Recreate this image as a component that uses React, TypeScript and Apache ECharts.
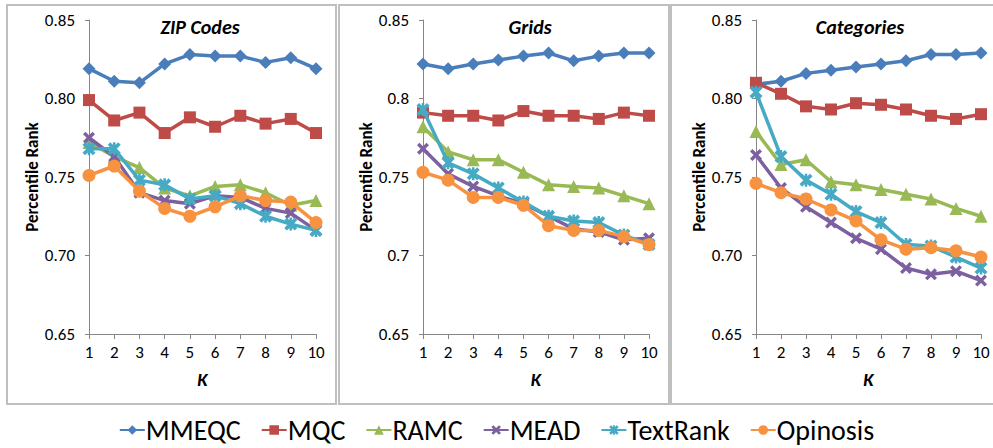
import React, { useEffect, useRef } from "react";
import * as echarts from "echarts";

const kLabels = ["1", "2", "3", "4", "5", "6", "7", "8", "9", "10"];
const seriesNames = ["MMEQC", "MQC", "RAMC", "MEAD", "TextRank", "Opinosis"];
const panelTitles = ["ZIP Codes", "Grids", "Categories"];
const yTicks = [0.65, 0.7, 0.75, 0.8, 0.85];

// ZIP Codes
const zipMMEQC = [0.819, 0.811, 0.81, 0.822, 0.828, 0.827, 0.827, 0.823, 0.826, 0.819];
const zipMQC = [0.799, 0.786, 0.791, 0.778, 0.788, 0.782, 0.789, 0.784, 0.787, 0.778];
const zipRAMC = [0.772, 0.763, 0.756, 0.743, 0.738, 0.744, 0.745, 0.74, 0.732, 0.735];
const zipMEAD = [0.775, 0.763, 0.74, 0.735, 0.733, 0.738, 0.737, 0.73, 0.727, 0.716];
const zipTextRank = [0.768, 0.768, 0.748, 0.745, 0.736, 0.738, 0.733, 0.725, 0.72, 0.716];
const zipOpinosis = [0.751, 0.757, 0.741, 0.73, 0.725, 0.731, 0.738, 0.735, 0.734, 0.721];

// Grids
const gridMMEQC = [0.822, 0.819, 0.822, 0.8245, 0.827, 0.829, 0.824, 0.827, 0.829, 0.829];
const gridMQC = [0.791, 0.789, 0.789, 0.786, 0.792, 0.789, 0.789, 0.787, 0.791, 0.789];
const gridRAMC = [0.782, 0.766, 0.761, 0.761, 0.753, 0.745, 0.744, 0.743, 0.738, 0.733];
const gridMEAD = [0.768, 0.752, 0.744, 0.738, 0.733, 0.725, 0.717, 0.715, 0.71, 0.711];
const gridTextRank = [0.793, 0.759, 0.752, 0.743, 0.734, 0.725, 0.722, 0.721, 0.713, 0.707];
const gridOpinosis = [0.753, 0.748, 0.737, 0.737, 0.732, 0.719, 0.716, 0.716, 0.712, 0.707];

// Categories
const catMMEQC = [0.809, 0.811, 0.816, 0.818, 0.82, 0.822, 0.824, 0.828, 0.828, 0.829];
const catMQC = [0.81, 0.803, 0.795, 0.793, 0.797, 0.796, 0.793, 0.789, 0.787, 0.79];
const catRAMC = [0.779, 0.758, 0.761, 0.747, 0.745, 0.742, 0.739, 0.736, 0.73, 0.725];
const catMEAD = [0.764, 0.743, 0.731, 0.721, 0.711, 0.704, 0.692, 0.688, 0.69, 0.684];
const catTextRank = [0.804, 0.763, 0.748, 0.739, 0.728, 0.721, 0.707, 0.706, 0.699, 0.692];
const catOpinosis = [0.746, 0.74, 0.736, 0.729, 0.722, 0.71, 0.704, 0.705, 0.703, 0.699];

const panelData = [
  [zipMMEQC, zipMQC, zipRAMC, zipMEAD, zipTextRank, zipOpinosis],
  [gridMMEQC, gridMQC, gridRAMC, gridMEAD, gridTextRank, gridOpinosis],
  [catMMEQC, catMQC, catRAMC, catMEAD, catTextRank, catOpinosis],
];

const COLORS = ["#4A7EBB", "#BE4B48", "#98B954", "#7D60A0", "#46AAC5", "#F69240"];
const X_PATH = "path://M0,2 L2,0 L5,3 L8,0 L10,2 L7,5 L10,8 L8,10 L5,7 L2,10 L0,8 L3,5 Z";
const AST_PATH =
  "path://M0,2 L2,0 L5,3 L8,0 L10,2 L7,5 L10,8 L8,10 L5,7 L2,10 L0,8 L3,5 Z M4,0 L6,0 L6,10 L4,10 Z";
const SYMBOLS = ["diamond", "rect", "triangle", X_PATH, AST_PATH, "circle"];
const SYMBOL_SIZES = [13, 12, 13, 12, 13, 13];

const FONT = "Carlito, Calibri, Lato, 'Open Sans', sans-serif";

const GRIDS = [
  { left: 89, width: 227 },
  { left: 423, width: 226 },
  { left: 756, width: 225 },
];
const TITLE_X = [200, 530, 860];
const PANELS = [
  { x: 7, w: 329 },
  { x: 339, w: 330 },
  { x: 671, w: 330 },
];

export default function App() {
  const ref = useRef<HTMLDivElement>(null);
  useEffect(() => {
    if (!ref.current) return;
    const chart = echarts.init(ref.current, null, { renderer: "svg" });

    const grid = GRIDS.map((g) => ({ left: g.left, width: g.width, top: 20, height: 314 }));
    const xAxis = GRIDS.map((_, i) => ({
      type: "category",
      gridIndex: i,
      data: kLabels,
      boundaryGap: false,
      name: "K",
      nameLocation: "middle",
      nameGap: 36,
      nameTextStyle: { fontFamily: FONT, fontSize: 19, fontWeight: "bold", fontStyle: "italic", color: "#000" },
      axisLine: { lineStyle: { color: "#868686", width: 1 } },
      axisTick: { show: true, alignWithLabel: true, length: 5, lineStyle: { color: "#868686" } },
      axisLabel: { fontFamily: FONT, fontSize: 17, color: "#000", margin: 10 },
      splitLine: { show: false },
    }));
    const yAxis = GRIDS.map((_, i) => ({
      type: "value",
      gridIndex: i,
      min: yTicks[0],
      max: yTicks[yTicks.length - 1],
      interval: 0.05,
      name: "Percentile Rank",
      nameLocation: "middle",
      nameGap: 48,
      nameTextStyle: { fontFamily: FONT, fontSize: 17, fontWeight: "bold", color: "#000" },
      axisLine: { show: true, lineStyle: { color: "#868686", width: 1 } },
      axisTick: { show: true, length: 4, lineStyle: { color: "#868686" } },
      axisLabel: {
        fontFamily: FONT,
        fontSize: 17,
        color: "#000",
        margin: 14,
        formatter: i === 1 ? (v: number) => String(parseFloat(v.toFixed(2))) : (v: number) => v.toFixed(2),
      },
      splitLine: { show: false },
    }));

    const series: any[] = [];
    panelData.forEach((arrs, p) => {
      arrs.forEach((arr, s) => {
        series.push({
          type: "line",
          name: seriesNames[s],
          xAxisIndex: p,
          yAxisIndex: p,
          data: arr,
          symbol: SYMBOLS[s],
          symbolSize: SYMBOL_SIZES[s],
          showSymbol: true,
          color: COLORS[s],
          lineStyle: { width: 3.5, color: COLORS[s] },
          itemStyle: { color: COLORS[s] },
          z: 2 + s,
        });
      });
    });

    const graphic: any[] = [];
    PANELS.forEach((pn) => {
      graphic.push({
        type: "rect",
        shape: { x: pn.x, y: 5, width: pn.w, height: 399 },
        style: { fill: "none", stroke: "#BFBFBF", lineWidth: 2 },
        silent: true,
        z: -1,
      });
    });
    panelTitles.forEach((t, i) => {
      graphic.push({
        type: "text",
        x: TITLE_X[i],
        y: 27,
        style: {
          text: t,
          align: "center",
          verticalAlign: "middle",
          font: `italic bold 20px ${FONT}`,
          fill: "#000",
        },
      });
    });

    chart.setOption({
      animation: false,
      backgroundColor: "#fff",
      grid,
      xAxis,
      yAxis,
      series,
      graphic,
      legend: {
        data: seriesNames,
        left: "center",
        top: 416,
        padding: 0,
        itemWidth: 25,
        itemHeight: 12,
        itemGap: 20,
        textStyle: {
          fontFamily: FONT,
          fontSize: 28,
          lineHeight: 28,
          color: "#000",
          padding: [0, 0, 0, -4],
        },
      },
    });
    return () => chart.dispose();
  }, []);
  return (
    <div
      ref={ref}
      style={{ position: "fixed", left: 0, top: 0, width: 993, height: 448, background: "#fff" }}
    />
  );
}
